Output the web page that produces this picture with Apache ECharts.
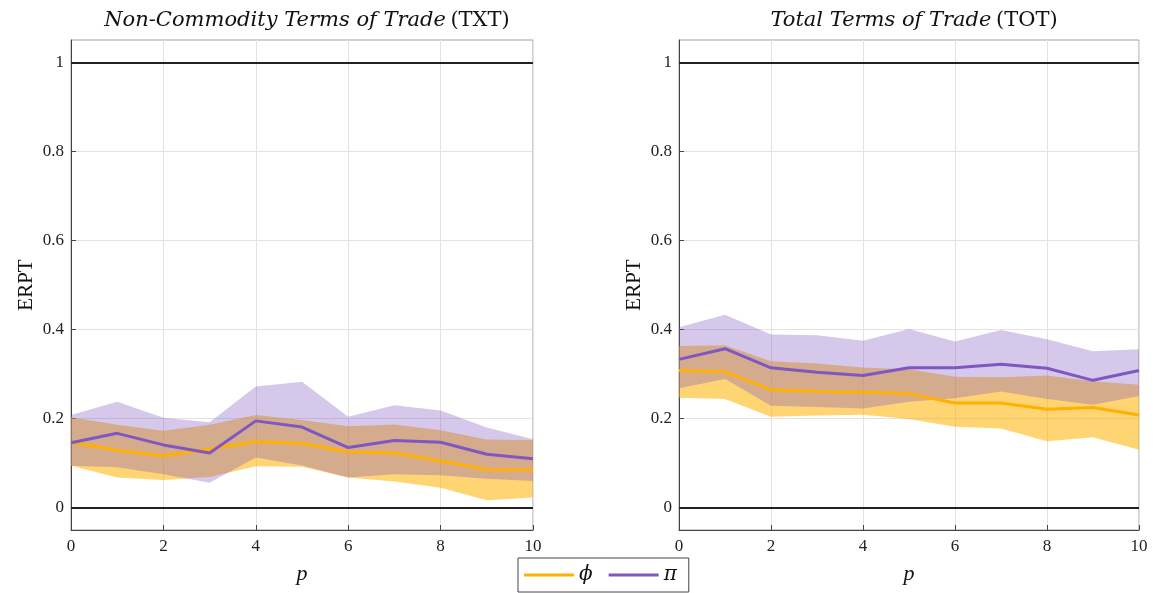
<!DOCTYPE html>
<html>
<head>
<meta charset="utf-8">
<script src="https://cdn.jsdelivr.net/npm/echarts@6/dist/echarts.min.js"></script>
<style>html,body{margin:0;padding:0;background:#fff}#c{width:1153px;height:593px}</style>
</head>
<body>
<div id="c"></div>
<script>
// ---- data ----
const p = [0,1,2,3,4,5,6,7,8,9,10];
const yTicks = [0,0.2,0.4,0.6,0.8,1];
const xTicks = [0,2,4,6,8,10];
// Non-Commodity Terms of Trade (TXT)
const txtPhi   = [0.147,0.129,0.116,0.132,0.148,0.144,0.125,0.123,0.105,0.086,0.085];
const txtPhiLo = [0.094,0.068,0.062,0.069,0.093,0.092,0.068,0.059,0.045,0.017,0.023];
const txtPhiHi = [0.203,0.186,0.173,0.186,0.208,0.197,0.183,0.187,0.174,0.153,0.152];
const txtPi    = [0.146,0.167,0.141,0.123,0.195,0.181,0.135,0.151,0.147,0.120,0.110];
const txtPiLo  = [0.094,0.091,0.075,0.056,0.113,0.095,0.068,0.075,0.073,0.065,0.060];
const txtPiHi  = [0.208,0.238,0.202,0.192,0.272,0.283,0.204,0.230,0.218,0.180,0.154];
// Total Terms of Trade (TOT)
const totPhi   = [0.308,0.305,0.265,0.261,0.260,0.256,0.235,0.235,0.221,0.225,0.208];
const totPhiLo = [0.247,0.244,0.204,0.207,0.209,0.199,0.182,0.178,0.149,0.158,0.130];
const totPhiHi = [0.363,0.365,0.329,0.324,0.315,0.311,0.294,0.293,0.297,0.284,0.276];
const totPi    = [0.333,0.357,0.314,0.304,0.297,0.314,0.314,0.322,0.313,0.286,0.308];
const totPiLo  = [0.268,0.289,0.229,0.226,0.223,0.238,0.246,0.261,0.244,0.231,0.251];
const totPiHi  = [0.405,0.433,0.389,0.387,0.375,0.401,0.373,0.399,0.378,0.351,0.356];
const panels = [
  {title:'Non-Commodity Terms of Trade', tag:'(TXT)', phi:txtPhi, phiLo:txtPhiLo, phiHi:txtPhiHi, pi:txtPi, piLo:txtPiLo, piHi:txtPiHi},
  {title:'Total Terms of Trade', tag:'(TOT)', phi:totPhi, phiLo:totPhiLo, phiHi:totPhiHi, pi:totPi, piLo:totPiLo, piHi:totPiHi}
];
const seriesNames = ['ϕ','π'];

// ---- styling ----
const ORANGE = '#FFB000', PURPLE = '#7E57C2';
const ORANGE_BAND = 'rgba(255,176,0,0.55)', PURPLE_BAND = 'rgba(126,87,194,0.33)';
const SERIF = 'Liberation Serif';
const TITLE_FONT = 'DejaVu Serif';
const grids = [
  {left:71, right:620, top:40, bottom:63},
  {left:679, right:14, top:40, bottom:63}
];
const pairs = (ys) => p.map((x,i)=>[x, ys[i]]);

function bandSeries(i, lo, hi, fill, z){
  return {
    type:'custom', xAxisIndex:i, yAxisIndex:i, silent:true, z:z, clip:true,
    data:[[p[0], lo[0]]],
    renderItem:(params, api)=>{
      const pts = p.map((x,k)=>api.coord([x, hi[k]]))
        .concat(p.map((x,k)=>api.coord([x, lo[k]])).reverse());
      return {type:'polygon', shape:{points:pts}, style:{fill:fill, stroke:null}};
    }
  };
}

const option = {
  animation:false,
  textStyle:{fontFamily:SERIF},
  title: panels.map((pn,i)=>({
    text:'{a|'+pn.title+'} {b|'+pn.tag+'}',
    left: i===0 ? 302 : 909, top: 5, textAlign:'center',
    textStyle:{rich:{
      a:{fontFamily:TITLE_FONT, fontStyle:'italic', fontWeight:'normal', fontSize:21, color:'#111'},
      b:{fontFamily:TITLE_FONT, fontWeight:'normal', fontSize:21, color:'#111'}
    }}
  })),
  legend:{
    data:seriesNames, left:518, top:558, width:168,
    orient:'horizontal', itemWidth:50, itemHeight:3, icon:'rect', itemGap:16,
    padding:[7,12,7,6], borderColor:'#444', borderWidth:1, backgroundColor:'#fff',
    textStyle:{fontFamily:'DejaVu Serif', fontStyle:'italic', fontSize:20, color:'#111'}
  },
  grid: grids.map(g=>Object.assign({show:true, borderColor:'#a0a0a0', borderWidth:1, containLabel:false}, g)),
  xAxis: grids.map((g,i)=>({
    type:'value', gridIndex:i, min:0, max:10, interval:2,
    name:'p', nameLocation:'middle', nameGap:33,
    nameTextStyle:{fontFamily:SERIF, fontStyle:'italic', fontSize:22, color:'#111'},
    axisLine:{show:true, onZero:false, lineStyle:{color:'#444', width:1}},
    axisTick:{show:true, inside:true, length:5, lineStyle:{color:'#444'}},
    axisLabel:{fontFamily:SERIF, fontSize:17, color:'#222', margin:8},
    splitLine:{show:true, lineStyle:{color:'#e2e2e2', width:1}}
  })),
  yAxis: grids.map((g,i)=>({
    type:'value', gridIndex:i, min:-0.05, max:1.05,
    name:'ERPT', nameLocation:'middle', nameGap:34,
    nameTextStyle:{fontFamily:SERIF, fontSize:21, color:'#111'},
    axisLine:{show:true, onZero:false, lineStyle:{color:'#444', width:1}},
    axisTick:{show:true, inside:true, length:5, customValues:yTicks, lineStyle:{color:'#444'}},
    axisLabel:{fontFamily:SERIF, fontSize:17, color:'#222', margin:7, customValues:yTicks,
      formatter:(v)=>String(+(+v).toFixed(1))},
    splitLine:{show:true, lineStyle:{color:'#e2e2e2', width:1}}
  })),
  series: []
};

panels.forEach((pn,i)=>{
  option.series.push(bandSeries(i, pn.phiLo, pn.phiHi, ORANGE_BAND, 1));
  option.series.push(bandSeries(i, pn.piLo, pn.piHi, PURPLE_BAND, 2));
  const common = {xAxisIndex:i, yAxisIndex:i, type:'line', showSymbol:false, symbol:'none', silent:true};
  option.series.push(Object.assign({}, common, {
    name:seriesNames[0], data:pairs(pn.phi), color:ORANGE, lineStyle:{color:ORANGE, width:3}, z:5,
    markLine:{silent:true, symbol:['none','none'], label:{show:false}, animation:false,
      data:[0,1].map(v=>({yAxis:v, lineStyle:{color:'#222', width:2, type:'solid'}}))}
  }));
  option.series.push(Object.assign({}, common, {
    name:seriesNames[1], data:pairs(pn.pi), color:PURPLE, lineStyle:{color:PURPLE, width:3}, z:6
  }));
});

const chart = echarts.init(document.getElementById('c'), null, {renderer:'canvas'});
chart.setOption(option);
</script>
</body>
</html>
